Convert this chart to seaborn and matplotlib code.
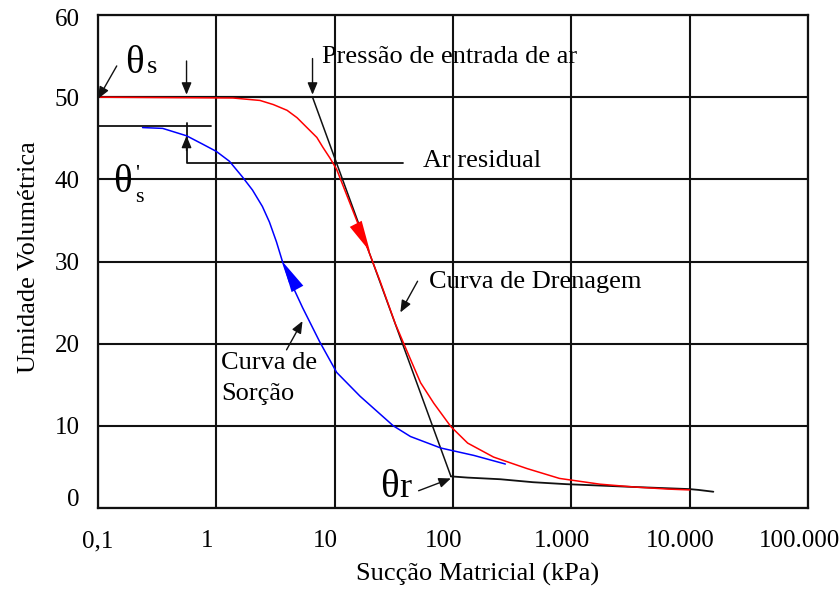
import numpy as np
import pandas as pd
import matplotlib
matplotlib.use("Agg")
import matplotlib.pyplot as plt
import matplotlib.transforms as mtransforms
from matplotlib.ticker import FixedLocator, FixedFormatter, NullLocator
import seaborn as sns

# ---------------- data ----------------
drain_x = [0.1, 1.38, 2.34, 3.03, 3.96, 4.81, 5.83, 7.07, 7.95, 9.11, 9.65, 10.4,
           17.3, 24.2, 32.6, 43.7, 53.2, 68.8, 96, 133, 220, 422, 794, 1742, 3357, 6590, 10000]
drain_y = [50, 49.9, 49.6, 49.1, 48.4, 47.5, 46.3, 45.1, 43.9, 42.6, 42.0, 41.2,
           33.1, 27.6, 22.4, 18.1, 15.25, 12.75, 9.9, 7.9, 6.2, 4.8, 3.6, 2.9, 2.56, 2.3, 2.2]

sorp_x = [0.238, 0.352, 0.56, 0.762, 1.0, 1.29, 1.66, 2.02, 2.45, 2.81, 3.22, 3.62, 4.15,
          4.41, 5.35, 7.46, 10.4, 16.4, 31.3, 43.7, 78.9, 150, 277]
sorp_y = [46.3, 46.2, 45.3, 44.3, 43.4, 42.2, 40.3, 38.7, 36.7, 34.8, 32.4, 30.0, 27.5,
          27.0, 24.4, 20.25, 16.5, 13.6, 10.0, 8.7, 7.3, 6.4, 5.35]

aev_x = [0.1, 6.5]
aev_y = [50, 50]
tangent_x = [6.5, 96]
tangent_y = [50, 3.85]
resid_x = [96, 133, 251, 473, 908, 3357, 10000, 11890, 15850]
resid_y = [3.85, 3.7, 3.5, 3.14, 2.9, 2.56, 2.3, 2.2, 1.98]
thsp_x = [0.1, 0.906]
thsp_y = [46.5, 46.5]
bracket_x = [0.56, 0.56, 38.1]
bracket_y = [46.8, 42.0, 42.0]

xtick_values = [0.1, 1, 10, 100, 1000, 10000, 100000]
xtick_labels = ["0,1", "1", "10", "100", "1.000", "10.000", "100.000"]
ytick_values = [0, 10, 20, 30, 40, 50, 60]
ytick_labels = ["0", "10", "20", "30", "40", "50", "60"]

# ---------------- style ----------------
sns.set_theme(style="white")
plt.rcParams['font.family'] = ['Liberation Serif', 'DejaVu Serif']

fig, ax = plt.subplots(figsize=(8.39, 5.92), dpi=100)
fig.subplots_adjust(left=98/839, right=808/839, bottom=1-508/592, top=1-15/592)
ax.set_xscale('log')
ax.set_xlim(0.1, 100000)
ax.set_ylim(0, 60)

black = '#111111'
sns.lineplot(x=aev_x, y=aev_y, ax=ax, color=black, lw=1.5, sort=False, estimator=None)
sns.lineplot(x=tangent_x, y=tangent_y, ax=ax, color=black, lw=1.1, sort=False, estimator=None)
sns.lineplot(x=resid_x, y=resid_y, ax=ax, color=black, lw=1.3, sort=False, estimator=None)
sns.lineplot(x=thsp_x, y=thsp_y, ax=ax, color=black, lw=1.3, sort=False, estimator=None)
sns.lineplot(x=bracket_x, y=bracket_y, ax=ax, color=black, lw=1.3, sort=False, estimator=None)
sns.lineplot(x=drain_x, y=drain_y, ax=ax, color='#ff0000', lw=1.1, sort=False, estimator=None)
sns.lineplot(x=sorp_x, y=sorp_y, ax=ax, color='#0000ff', lw=1.1, sort=False, estimator=None)

# direction arrowheads on curves
head = dict(arrowstyle='-|>,head_length=1.5,head_width=0.32', mutation_scale=15,
            lw=0, shrinkA=0, shrinkB=0)
ax.annotate('', xy=(19.9, 31.2), xytext=(14.8, 34.8), arrowprops=dict(color='#ff0000', **head))
ax.annotate('', xy=(3.62, 30.0), xytext=(5.05, 26.2), arrowprops=dict(color='#0000ff', **head))

# annotation arrows
arr = dict(arrowstyle='-|>,head_length=0.6,head_width=0.25', mutation_scale=12,
           color=black, lw=1.0, shrinkA=0, shrinkB=0)
ax.annotate('', xy=(0.1, 49.8), xytext=(0.144, 53.8), arrowprops=arr)
ax.annotate('', xy=(0.56, 50.3), xytext=(0.56, 54.4), arrowprops=arr)
ax.annotate('', xy=(6.5, 50.3), xytext=(6.5, 54.7), arrowprops=arr)
ax.annotate('', xy=(0.56, 45.3), xytext=(0.56, 43.5), arrowprops=arr)
ax.annotate('', xy=(35.9, 23.8), xytext=(50.2, 27.6), arrowprops=arr)
ax.annotate('', xy=(5.35, 22.75), xytext=(3.92, 19.25), arrowprops=arr)
ax.annotate('', xy=(96, 3.6), xytext=(51.2, 2.1), arrowprops=arr)

# texts
tk = dict(color='black', va='baseline', ha='left')
ax.text(7.77, 54.1, "Pressão de entrada de ar", fontsize=19, **tk)
ax.text(55.4, 41.5, "Ar residual", fontsize=19, **tk)
ax.text(62.9, 26.8, "Curva de Drenagem", fontsize=19, **tk)
ax.text(1.10, 16.9, "Curva de", fontsize=19, **tk)
ax.text(1.10, 13.1, "Sorção", fontsize=19, **tk)
ax.text(0.168, 52.9, "θ", fontsize=28, **tk)
ax.text(0.258, 52.9, "s", fontsize=19, **tk)
ax.text(0.134, 38.5, "θ", fontsize=28, **tk)
ax.text(0.206, 41.8, "'", fontsize=16, color='black', va='top', ha='left')
ax.text(0.206, 37.3, "s", fontsize=16, **tk)
ax.text(24.3, 1.28, "θ", fontsize=28, **tk)
ax.text(35.2, 1.28, "r", fontsize=26, **tk)

# axes / ticks
ax.xaxis.set_major_locator(FixedLocator(xtick_values))
ax.xaxis.set_major_formatter(FixedFormatter(xtick_labels))
ax.xaxis.set_minor_locator(NullLocator())
ax.yaxis.set_major_locator(FixedLocator(ytick_values))
ax.yaxis.set_major_formatter(FixedFormatter(ytick_labels))
ax.tick_params(axis='x', length=0, labelsize=18, pad=16, colors='black')
ax.tick_params(axis='y', length=0, labelsize=18, pad=13, colors='black')
ax.grid(True, which='major', color=black, lw=1.5)
ax.set_axisbelow(True)
for s in ax.spines.values():
    s.set_color(black)
    s.set_linewidth(1.6)

offset = mtransforms.ScaledTranslation(-9/100, 0, fig.dpi_scale_trans)
for i, lab in enumerate(ax.get_xticklabels()):
    if i > 0:
        lab.set_transform(lab.get_transform() + offset)

ylabs = ax.get_yticklabels()
ylabs[0].set_transform(ylabs[0].get_transform() + mtransforms.ScaledTranslation(0, 10/100, fig.dpi_scale_trans))
ylabs[-1].set_transform(ylabs[-1].get_transform() + mtransforms.ScaledTranslation(0, -3/100, fig.dpi_scale_trans))

ax.set_xlabel("Sucção Matricial (kPa)", fontsize=19, color='black')
ax.set_ylabel("Umidade Volumétrica", fontsize=19, color='black')
ax.xaxis.set_label_coords(0.535, -0.112)
ax.yaxis.set_label_coords(-0.082, 0.509)

fig.savefig("out.png", dpi=100)
